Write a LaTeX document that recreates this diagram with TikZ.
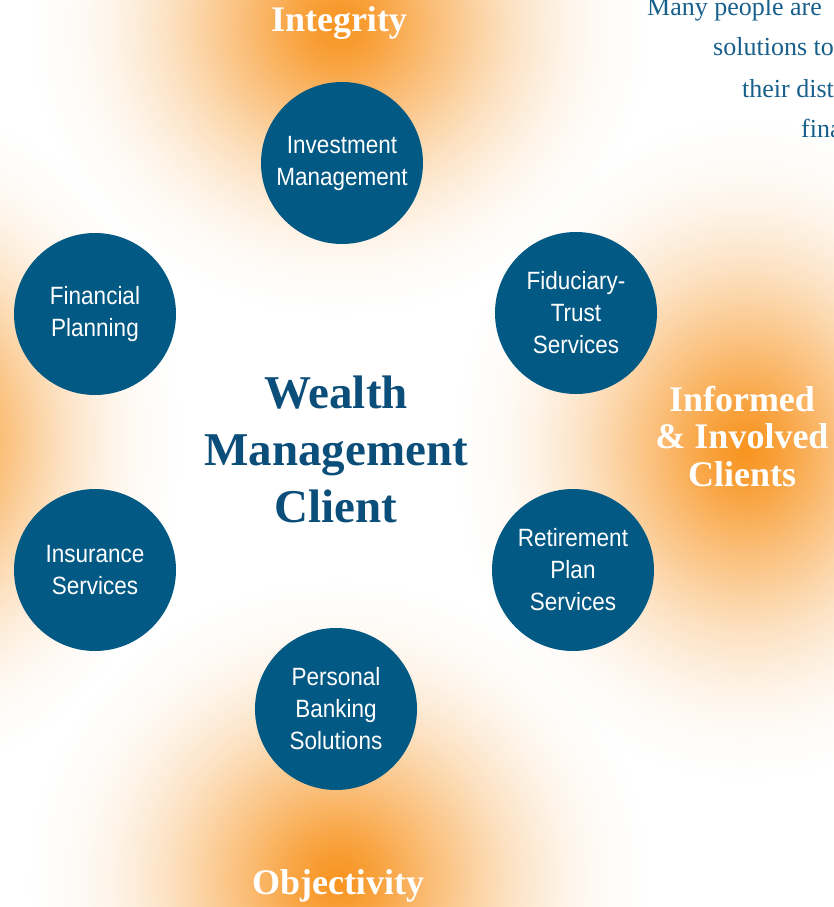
\documentclass[tikz,border=0pt]{standalone}
\usepackage{fontspec}
\setmainfont{Liberation Serif}
\newfontfamily\circfont{Liberation Sans}[FakeStretch=0.9]
\usetikzlibrary{fadings}
\definecolor{circblue}{RGB}{2,89,132}
\definecolor{titleblue}{RGB}{12,78,122}
\definecolor{textblue}{RGB}{24,96,140}
\definecolor{glow}{RGB}{248,148,32}
\pgfdeclareradialshading{glowmask}{\pgfpointorigin}{color(0bp)=(pgftransparent!0); color(2bp)=(pgftransparent!8); color(4bp)=(pgftransparent!18); color(6bp)=(pgftransparent!30); color(8bp)=(pgftransparent!42); color(10bp)=(pgftransparent!53); color(12bp)=(pgftransparent!64); color(14bp)=(pgftransparent!74); color(16bp)=(pgftransparent!82); color(18bp)=(pgftransparent!89); color(20bp)=(pgftransparent!94); color(22.5bp)=(pgftransparent!98); color(25bp)=(pgftransparent!100); color(50bp)=(pgftransparent!100)}
\pgfdeclarefading{glowfade}{\pgfuseshading{glowmask}}
\tikzset{
  glowspot/.style={fill=glow, path fading=glowfade},
  service/.style={circle, fill=circblue, minimum size=162pt, inner sep=0pt, text=white, align=center, font=\circfont\fontsize{25}{32}\selectfont},
  valuelabel/.style={text=white, align=center, font=\bfseries\fontsize{36}{37.5}\selectfont, inner sep=0pt},
  introline/.style={anchor=base west, inner sep=0pt, text=textblue, font=\fontsize{26}{30}\selectfont}
}
\begin{document}
\begin{tikzpicture}[x=1pt,y=-1pt]
\useasboundingbox (0,0) rectangle (833,907);
\fill[white] (0,0) rectangle (833,907);
% glows
\fill[glowspot] (339,25) ellipse [x radius=310, y radius=290];
\fill[glowspot] (-80,440) ellipse [x radius=260, y radius=330];
\fill[glowspot] (745,450) ellipse [x radius=290, y radius=330];
\fill[glowspot] (338,880) ellipse [x radius=310, y radius=300];
% intro text (cut off at the right edge)
\node[introline] (l1) at (647,16) {Many people are};
\node[introline] (l2) at (713,56) {solutions to};
\node[introline] (l3) at (742,97) {their dist};
\node[introline] (l4) at (801,137) {fina};
% value labels
\node[valuelabel] (integ) at (339,23) {Integrity};
\node[valuelabel] (objec) at (338,886) {Objectivity};
\node[valuelabel] (inform) at (742,436) {Informed\\\& Involved\\Clients};
% services
\node[service] (invest) at (342,163) {Investment\\Management};
\node[service] (fiduc) at (576,313) {Fiduciary-\\Trust\\Services};
\node[service] (finplan) at (95,314) {Financial\\Planning};
\node[service] (insur) at (95,570) {Insurance\\Services};
\node[service] (retire) at (573,570) {Retirement\\Plan\\Services};
\node[service] (bank) at (336,709) {Personal\\Banking\\Solutions};
% centre
\node[text=titleblue, align=center, font=\bfseries\fontsize{47}{57}\selectfont] (client) at (336,449) {Wealth\\Management\\Client};
\end{tikzpicture}
\end{document}
